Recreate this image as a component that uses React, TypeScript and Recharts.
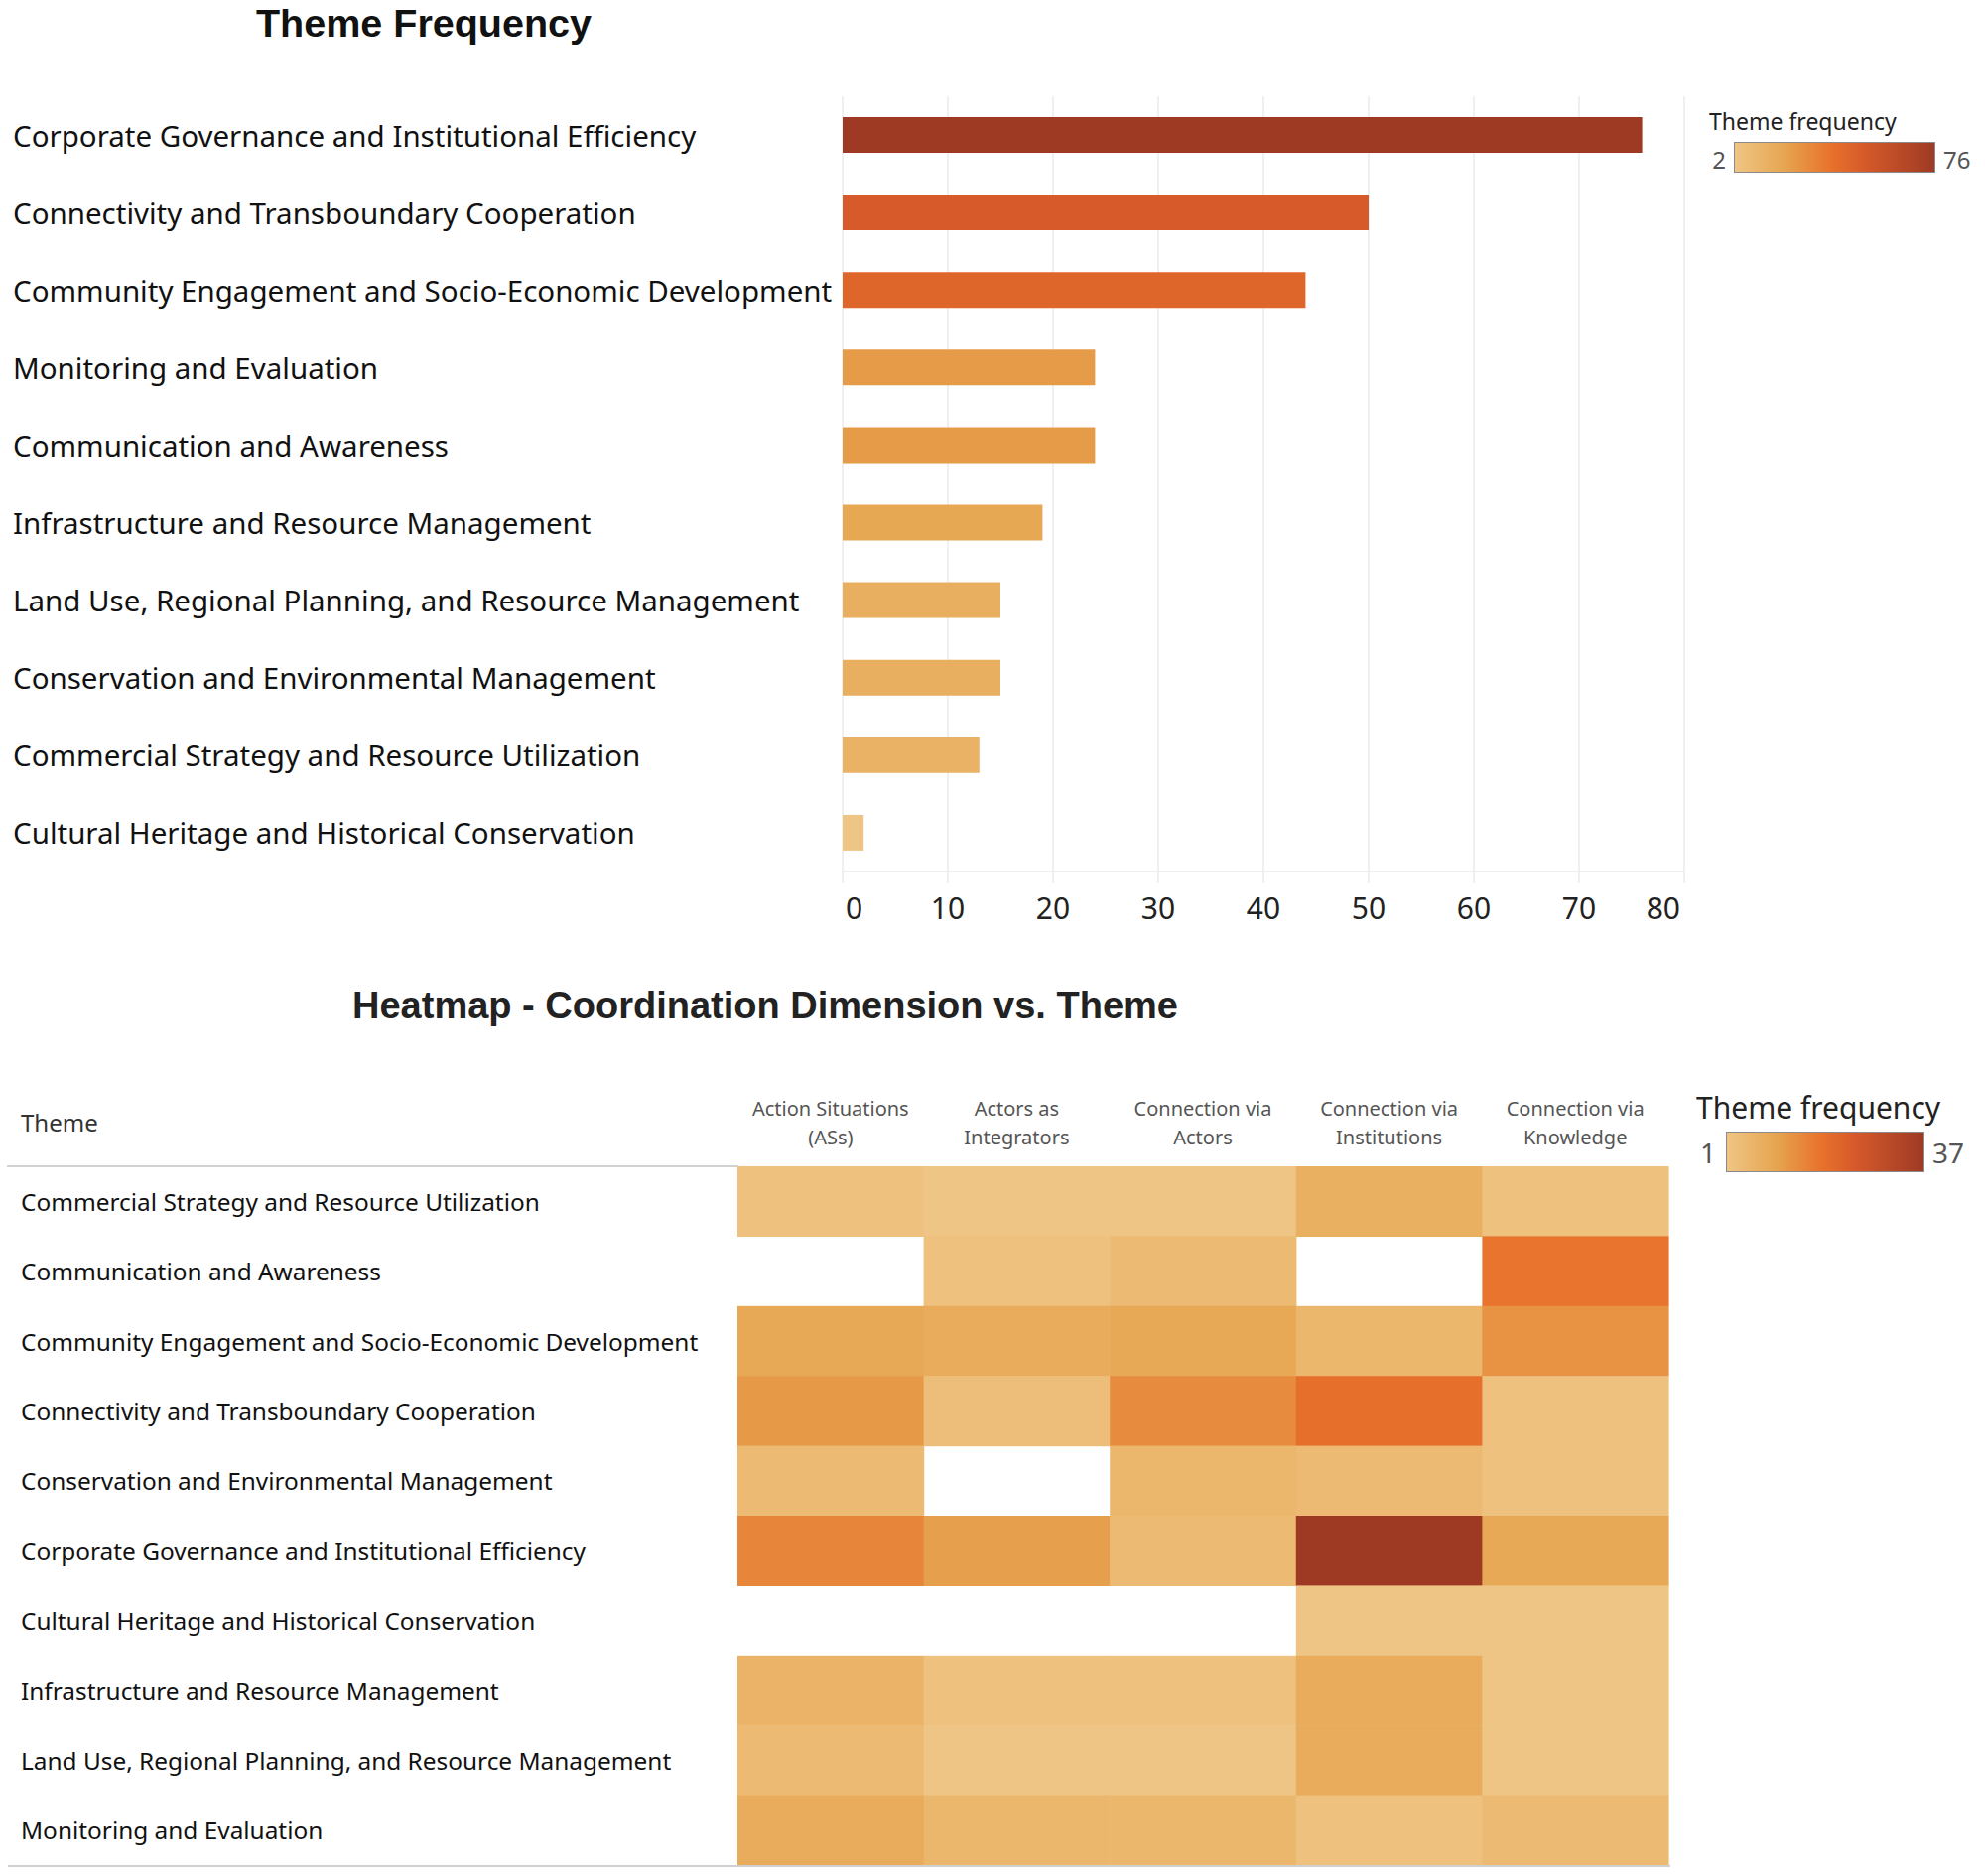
import React from 'react';
import { BarChart, Bar, XAxis, YAxis, CartesianGrid, Cell, ScatterChart, Scatter } from 'recharts';

// ---------- Data: bar chart ----------
const barThemes = [
  'Corporate Governance and Institutional Efficiency',
  'Connectivity and Transboundary Cooperation',
  'Community Engagement and Socio-Economic Development',
  'Monitoring and Evaluation',
  'Communication and Awareness',
  'Infrastructure and Resource Management',
  'Land Use, Regional Planning, and Resource Management',
  'Conservation and Environmental Management',
  'Commercial Strategy and Resource Utilization',
  'Cultural Heritage and Historical Conservation',
];
const barValues = [76, 50, 44, 24, 24, 19, 15, 15, 13, 2];
const barTicks = [0, 10, 20, 30, 40, 50, 60, 70, 80];

// ---------- Data: heatmap ----------
const heatThemes = [
  'Commercial Strategy and Resource Utilization',
  'Communication and Awareness',
  'Community Engagement and Socio-Economic Development',
  'Connectivity and Transboundary Cooperation',
  'Conservation and Environmental Management',
  'Corporate Governance and Institutional Efficiency',
  'Cultural Heritage and Historical Conservation',
  'Infrastructure and Resource Management',
  'Land Use, Regional Planning, and Resource Management',
  'Monitoring and Evaluation',
];
const dimensions = [
  'Action Situations (ASs)',
  'Actors as Integrators',
  'Connection via Actors',
  'Connection via Institutions',
  'Connection via Knowledge',
];
const dimensionLines = [
  ['Action Situations', '(ASs)'],
  ['Actors as', 'Integrators'],
  ['Connection via', 'Actors'],
  ['Connection via', 'Institutions'],
  ['Connection via', 'Knowledge'],
];
const actionSituations = [2, 0, 9, 12, 4, 15, 0, 6, 4, 8];
const actorsIntegrators = [1, 2, 8, 3, 0, 11, 0, 2, 1, 5];
const connActors = [1, 4, 9, 14, 5, 4, 0, 2, 1, 5];
const connInstitutions = [7, 0, 5, 19, 4, 37, 1, 8, 8, 2];
const connKnowledge = [2, 18, 13, 2, 2, 9, 1, 1, 1, 4];
const heatColumns = [actionSituations, actorsIntegrators, connActors, connInstitutions, connKnowledge];

// ---------- Colour scale ----------
const STOPS: [number, string][] = [
  [0, '#EFC585'],
  [0.25, '#E6A550'],
  [0.48, '#E8722C'],
  [0.65, '#D65A2A'],
  [1, '#9E3A24'],
];
const hex = (h: string) => [1, 3, 5].map((i) => parseInt(h.slice(i, i + 2), 16));
function colorFor(v: number, min: number, max: number) {
  const t = Math.max(0, Math.min(1, (v - min) / (max - min)));
  for (let i = 0; i < STOPS.length - 1; i++) {
    const [t0, c0] = STOPS[i];
    const [t1, c1] = STOPS[i + 1];
    if (t <= t1) {
      const f = (t - t0) / (t1 - t0);
      const a = hex(c0);
      const b = hex(c1);
      const c = a.map((x, k) => Math.round(x + (b[k] - x) * f));
      return `rgb(${c[0]},${c[1]},${c[2]})`;
    }
  }
  return STOPS[STOPS.length - 1][1];
}
const gradientCss = `linear-gradient(to right, ${STOPS.map(([t, c]) => `${c} ${t * 100}%`).join(', ')})`;

const barData = barThemes.map((theme, i) => ({ theme, value: barValues[i] }));
const heatData = heatThemes.flatMap((theme, i) =>
  dimensions.map((dim, j) => ({ theme, dim, value: heatColumns[j][i] }))
);

const SANS = '"Noto Sans", "Open Sans", sans-serif';
const TITLE = '"Liberation Sans", Arial, sans-serif';

// heatmap geometry (plot area)
const H_PLOT_W = 938;
const H_PLOT_H = 704;
const CELL_W = H_PLOT_W / dimensions.length;
const CELL_H = H_PLOT_H / heatThemes.length;

const BarYTick = (props: any) => {
  const { y, payload } = props;
  return (
    <text x={13} y={y} dominantBaseline="central" textAnchor="start" fontFamily={SANS} fontSize={29.5} fill="#111">
      {payload.value}
    </text>
  );
};

const BarXTick = (props: any) => {
  const { x, y, payload, index } = props;
  const last = index === barTicks.length - 1;
  const first = index === 0;
  const anchor = first ? 'start' : last ? 'end' : 'middle';
  const dx = first ? 3 : last ? -4 : 0;
  return (
    <text x={x + dx} y={y + 22} dominantBaseline="central" textAnchor={anchor} fontFamily={SANS} fontSize={30} fill="#222">
      {payload.value}
    </text>
  );
};

const HeatYTick = (props: any) => {
  const { y, payload } = props;
  return (
    <text x={21} y={y} dominantBaseline="central" textAnchor="start" fontFamily={SANS} fontSize={24.4} fill="#111">
      {payload.value}
    </text>
  );
};

const HeatXTick = (props: any) => {
  const { x, payload } = props;
  const idx = dimensions.indexOf(payload.value);
  const lines = dimensionLines[idx] || [payload.value];
  return (
    <g>
      {lines.map((l, k) => (
        <text key={k} x={x} y={56 + k * 29} dominantBaseline="central" textAnchor="middle" fontFamily={SANS} fontSize={20} fill="#555">
          {l}
        </text>
      ))}
    </g>
  );
};

const HeatCell = (props: any) => {
  const { cx, cy, payload } = props;
  if (!payload || !payload.value) return <g />;
  return (
    <rect
      x={cx - CELL_W / 2}
      y={cy - CELL_H / 2}
      width={CELL_W + 0.6}
      height={CELL_H + 0.6}
      fill={colorFor(payload.value, 1, 37)}
    />
  );
};

const abs = (s: React.CSSProperties): React.CSSProperties => ({ position: 'absolute', margin: 0, whiteSpace: 'nowrap', ...s });

export default function App() {
  return (
    <div style={{ position: 'absolute', left: 0, top: 0, width: 2000, height: 1890, background: '#fff', overflow: 'hidden' }}>
      {/* Top title */}
      <div style={abs({ left: 0, top: 4, width: 854, textAlign: 'center', fontFamily: TITLE, fontWeight: 700, fontSize: 39.5, lineHeight: '39.5px', color: '#111' })}>
        Theme Frequency
      </div>

      {/* Bar chart */}
      <div style={abs({ left: 0, top: 0 })}>
        <BarChart
          width={2000}
          height={940}
          data={barData}
          layout="vertical"
          margin={{ top: 97, right: 303, bottom: 2, left: 0 }}
        >
          <CartesianGrid horizontal={false} vertical={true} stroke="#EBEBEB" strokeWidth={1.5} />
          <XAxis
            type="number"
            domain={[0, 80]}
            ticks={barTicks}
            interval={0}
            height={60}
            axisLine={{ stroke: '#EBEBEB', strokeWidth: 1.5 }}
            tickLine={{ stroke: '#EBEBEB', strokeWidth: 1.5 }}
            tickSize={12}
            tick={<BarXTick />}
          />
          <YAxis
            type="category"
            dataKey="theme"
            width={849}
            axisLine={false}
            tickLine={false}
            interval={0}
            tick={<BarYTick />}
          />
          <Bar dataKey="value" barSize={36} isAnimationActive={false}>
            {barData.map((d, i) => (
              <Cell key={i} fill={colorFor(d.value, 2, 76)} />
            ))}
          </Bar>
        </BarChart>
      </div>

      {/* Top legend */}
      <div style={abs({ left: 1722, top: 111, fontFamily: SANS, fontSize: 23, lineHeight: '23px', color: '#222' })}>Theme frequency</div>
      <div style={abs({ left: 1747, top: 143, width: 201, height: 29, border: '1px solid #8a8a8a', background: gradientCss })} />
      <div style={abs({ left: 1700, top: 149, width: 39, textAlign: 'right', fontFamily: SANS, fontSize: 24, lineHeight: '24px', color: '#555' })}>2</div>
      <div style={abs({ left: 1958, top: 149, fontFamily: SANS, fontSize: 24, lineHeight: '24px', color: '#555' })}>76</div>

      {/* Heatmap title */}
      <div style={abs({ left: 0, top: 994, width: 1542, textAlign: 'center', fontFamily: TITLE, fontWeight: 700, fontSize: 38, lineHeight: '38px', color: '#222' })}>
        Heatmap - Coordination Dimension vs. Theme
      </div>

      {/* Heatmap header */}
      <div style={abs({ left: 21, top: 1119, fontFamily: SANS, fontSize: 24, lineHeight: '24px', color: '#333' })}>Theme</div>
      <div style={abs({ left: 7, top: 1174, width: 737, height: 2, background: '#d2d2d2' })} />

      {/* Heatmap */}
      <div style={abs({ left: 0, top: 1060 })}>
        <ScatterChart width={2000} height={830} margin={{ top: 10, right: 319, bottom: 11, left: 0 }}>
          <XAxis
            type="category"
            dataKey="dim"
            orientation="top"
            allowDuplicatedCategory={false}
            height={105}
            axisLine={false}
            tickLine={false}
            interval={0}
            tick={<HeatXTick />}
          />
          <YAxis
            type="category"
            dataKey="theme"
            allowDuplicatedCategory={false}
            reversed
            width={743}
            axisLine={false}
            tickLine={false}
            interval={0}
            tick={<HeatYTick />}
          />
          <Scatter data={heatData} shape={<HeatCell />} isAnimationActive={false} />
        </ScatterChart>
      </div>
      <div style={abs({ left: 8, top: 1879, width: 1675, height: 2, background: '#cfcfcf' })} />

      {/* Heatmap legend */}
      <div style={abs({ left: 1709, top: 1101, fontFamily: SANS, fontSize: 30, lineHeight: '30px', color: '#222' })}>Theme frequency</div>
      <div style={abs({ left: 1739, top: 1140, width: 198, height: 39, border: '1px solid #8a8a8a', background: gradientCss })} />
      <div style={abs({ left: 1690, top: 1147, width: 39, textAlign: 'right', fontFamily: SANS, fontSize: 28, lineHeight: '28px', color: '#555' })}>1</div>
      <div style={abs({ left: 1947, top: 1147, fontFamily: SANS, fontSize: 28, lineHeight: '28px', color: '#555' })}>37</div>
    </div>
  );
}
